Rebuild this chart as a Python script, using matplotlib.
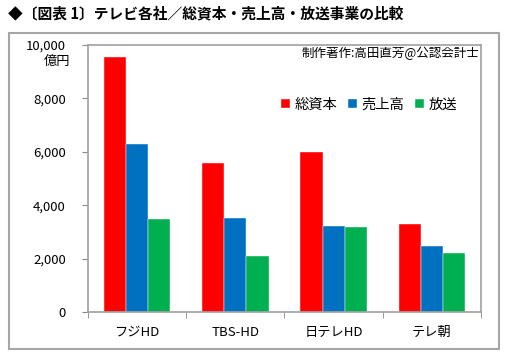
import matplotlib
matplotlib.use("Agg")
import matplotlib.pyplot as plt
from matplotlib.patches import Rectangle
import numpy as np

plt.rcParams['font.family'] = ['Noto Sans CJK JP', 'DejaVu Sans']

categories = ["フジHD", "TBS-HD", "日テレHD", "テレ朝"]
series_names = ["総資本", "売上高", "放送"]
total_assets = [9540, 5570, 5980, 3300]
sales = [6300, 3510, 3220, 2480]
broadcast = [3470, 2100, 3180, 2200]
colors = ["#FF0000", "#0070C0", "#00B050"]
yticks = [0, 2000, 4000, 6000, 8000, 10000]
ytick_labels = ["0", "2,000", "4,000", "6,000", "8,000", "10,000"]

W, H = 510, 356
fig = plt.figure(figsize=(W / 100, H / 100), dpi=100)

# outer chart frame
fig.patches.append(Rectangle((9 / W, 1 - 349 / H), 490 / W, 316 / H,
                             transform=fig.transFigure, facecolor="white",
                             edgecolor="#A6A6A6", linewidth=1.5, zorder=-5))

fig.text(8 / W, 1 - 13 / H, "◆〔図表 1〕テレビ各社／総資本・売上高・放送事業の比較",
         fontsize=10.6, fontweight="bold", va="center", ha="left")

ax = fig.add_axes([88 / W, 1 - 312 / H, (481 - 88) / W, (312 - 45) / H])
ax.set_zorder(2)
ax.patch.set_facecolor("white")
x = np.arange(len(categories))
bw = 0.225
for i, (vals, name, c) in enumerate(zip([total_assets, sales, broadcast], series_names, colors)):
    ax.bar(x + (i - 1) * bw, vals, width=bw, color=c, label=name,
           edgecolor="white", linewidth=0.3)

ax.set_xlim(-0.5, len(categories) - 0.5)
ax.set_ylim(0, 10000)
ax.set_yticks(yticks)
ax.set_yticklabels(ytick_labels, fontsize=9.5)
ax.set_xticks(x)
ax.set_xticklabels(categories, fontsize=9.5)
ax.tick_params(axis="x", length=0, pad=10)
ax.tick_params(axis="y", length=4, color="#888888", pad=12)
ax.set_xticks(np.arange(-0.5, len(categories)), minor=True)
ax.tick_params(axis="x", which="minor", length=4, color="#888888")
for s in ax.spines.values():
    s.set_color("#A0A0A0")
    s.set_linewidth(1.2)

fig.text(70 / W, 1 - 61 / H, "億円", fontsize=9.5, ha="right", va="center", zorder=3)

ax.text(0.995, 0.97, "制作著作:高田直芳@公認会計士", transform=ax.transAxes,
        fontsize=9, ha="right", va="center")

ax.legend(loc="center", bbox_to_anchor=((369 - 88) / (481 - 88), (312 - 105) / (312 - 45)),
          ncol=3, frameon=False, fontsize=10.3, handlelength=0.6, handleheight=0.6,
          handletextpad=0.3, columnspacing=0.8)

fig.savefig("out.png", dpi=100)
